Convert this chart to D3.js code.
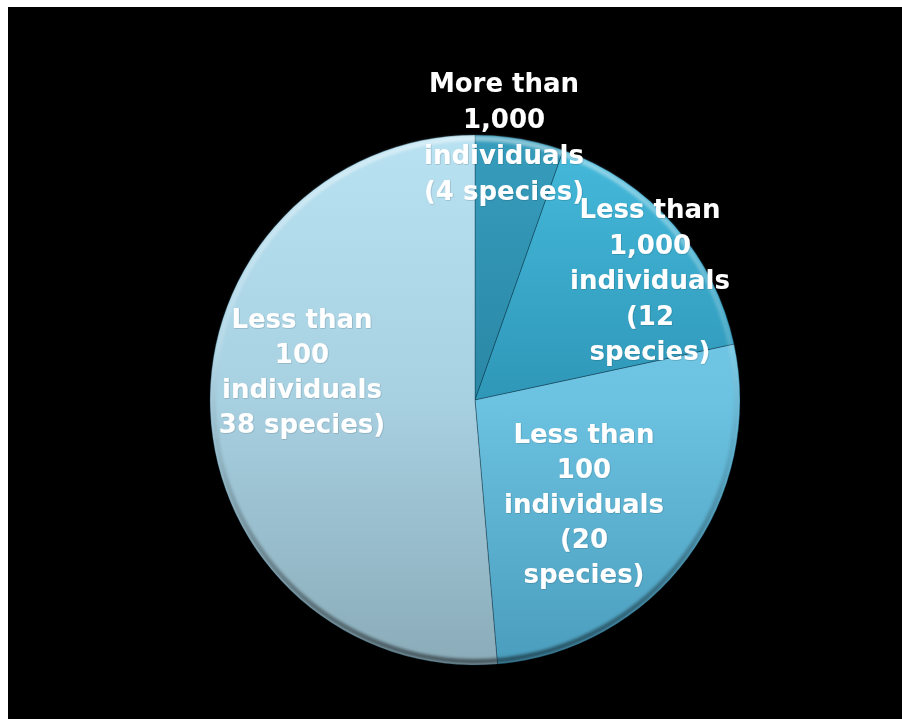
<!DOCTYPE html>
<html>
<head>
<meta charset="utf-8">
<script src="https://cdn.jsdelivr.net/npm/d3@7"></script>
<style>
  html, body { margin: 0; padding: 0; background: #ffffff; }
  svg { display: block; }
</style>
</head>
<body>
<svg id="chart" width="902" height="719"></svg>
<script>
// Population size classes and how many species fall in each
const categories = [
  "More than 1,000 individuals",
  "Less than 1,000 individuals",
  "Less than 100 individuals (20)",
  "Less than 100 individuals (38)"
];
const speciesCounts = [4, 12, 20, 38];

// Slice label text, one entry per line
const labelLines = [
  ["More than", "1,000", "individuals", "(4 species)"],
  ["Less than", "1,000", "individuals", "(12", "species)"],
  ["Less than", "100", "individuals", "(20", "species)"],
  ["Less than", "100", "individuals", "38 species)"]
];

// Fill shading per slice: [top, middle, bottom colour]
const sliceShades = [
  ["#379dbd", "#2a87a5", "#1d7490"],
  ["#46bbdd", "#2f97b8", "#2382a2"],
  ["#7ad0ec", "#6cc2e1", "#4a9dbd"],
  ["#b8e1f1", "#a7d0e1", "#8bacb9"]
];

const width = 902, height = 719;
const cx = 475, cy = 400, radius = 265;

// Label layout: centre x, first baseline, line step
const labelLayout = [
  { x: 504, y: 92, step: 36 },
  { x: 650, y: 218, step: 35.5 },
  { x: 584, y: 443, step: 35 },
  { x: 302, y: 328, step: 35 }
];

const svg = d3.select("#chart");

// Black stage
svg.append("rect")
  .attr("x", 8).attr("y", 7)
  .attr("width", width - 8).attr("height", height - 7)
  .attr("fill", "#000");

const defs = svg.append("defs");

// Gradients are in the pie group's own coordinates (centred on 0,0)
sliceShades.forEach((c, i) => {
  const g = defs.append("linearGradient")
    .attr("id", "shade" + i)
    .attr("gradientUnits", "userSpaceOnUse")
    .attr("x1", 0).attr("y1", -radius)
    .attr("x2", 0).attr("y2", radius);
  g.append("stop").attr("offset", "0%").attr("stop-color", c[0]);
  g.append("stop").attr("offset", "50%").attr("stop-color", c[1]);
  g.append("stop").attr("offset", "100%").attr("stop-color", c[2]);
});

// Rim bevel: light on the upper edge, dark on the lower edge
const rim = defs.append("linearGradient")
  .attr("id", "rim")
  .attr("gradientUnits", "userSpaceOnUse")
  .attr("x1", 0).attr("y1", -radius)
  .attr("x2", 0).attr("y2", radius);
rim.append("stop").attr("offset", "0%").attr("stop-color", "#ffffff").attr("stop-opacity", 0.45);
rim.append("stop").attr("offset", "40%").attr("stop-color", "#ffffff").attr("stop-opacity", 0.15);
rim.append("stop").attr("offset", "60%").attr("stop-color", "#000000").attr("stop-opacity", 0.1);
rim.append("stop").attr("offset", "100%").attr("stop-color", "#000000").attr("stop-opacity", 0.5);

const blur = defs.append("filter").attr("id", "soft")
  .attr("x", "-10%").attr("y", "-10%").attr("width", "120%").attr("height", "120%");
blur.append("feGaussianBlur").attr("stdDeviation", 1.6);

const textShadow = defs.append("filter").attr("id", "tshadow")
  .attr("x", "-10%").attr("y", "-20%").attr("width", "120%").attr("height", "140%");
textShadow.append("feDropShadow")
  .attr("dx", 0.5).attr("dy", 0.5).attr("stdDeviation", 0.6)
  .attr("flood-color", "#000").attr("flood-opacity", 0.25);

const pie = d3.pie().sort(null).value(d => d);
const arcs = pie(speciesCounts);
const arc = d3.arc().innerRadius(0).outerRadius(radius);

const g = svg.append("g").attr("transform", `translate(${cx},${cy})`);

g.selectAll("path.slice")
  .data(arcs)
  .join("path")
  .attr("class", "slice")
  .attr("d", arc)
  .attr("fill", (d, i) => `url(#shade${i})`)
  .attr("stroke", "rgba(0,40,60,0.35)")
  .attr("stroke-width", 1);

// Bevel highlight along each slice's outer edge
const bevelArc = d3.arc().innerRadius(radius - 6).outerRadius(radius - 1);
g.selectAll("path.bevel")
  .data(arcs)
  .join("path")
  .attr("class", "bevel")
  .attr("d", bevelArc)
  .attr("fill", "url(#rim)")
  .attr("filter", "url(#soft)");

// Labels
const labels = svg.append("g")
  .attr("font-family", "'DejaVu Sans', Verdana, sans-serif")
  .attr("font-weight", "bold")
  .attr("font-size", 26)
  .attr("fill", "#ffffff")
  .attr("text-anchor", "middle")
  .attr("filter", "url(#tshadow)");

labelLines.forEach((lines, i) => {
  const L = labelLayout[i];
  const t = labels.append("text").attr("class", "label").datum(categories[i]);
  lines.forEach((line, k) => {
    t.append("tspan")
      .attr("x", L.x)
      .attr("y", L.y + k * L.step)
      .text(line);
  });
});
</script>
</body>
</html>
